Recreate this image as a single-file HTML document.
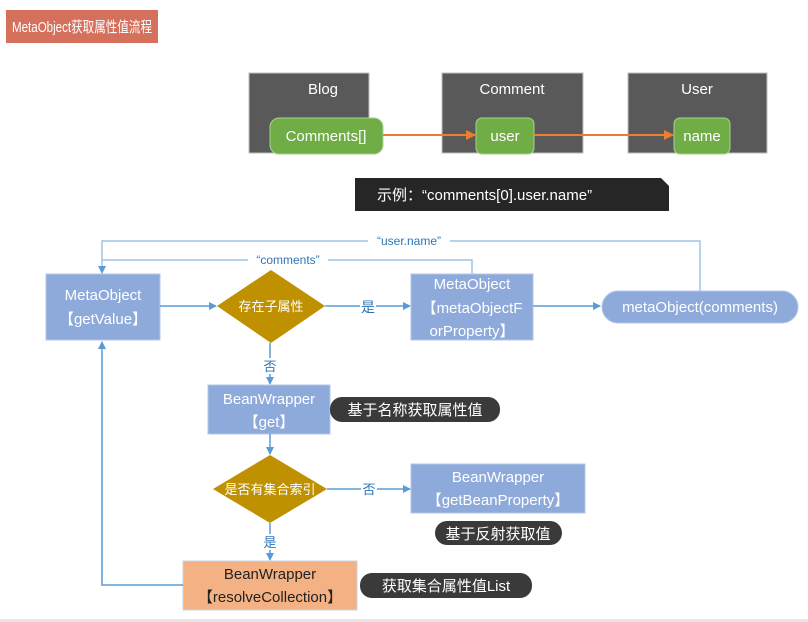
<!DOCTYPE html>
<html><head><meta charset="utf-8"><style>
body{margin:0;width:808px;height:622px;background:#fff;overflow:hidden}
svg{display:block}
text{font-family:"Liberation Sans","Noto Sans CJK SC",sans-serif}
</style></head><body>
<svg width="808" height="622" viewBox="0 0 808 622">
<defs>
<marker id="ab" markerWidth="8" markerHeight="8" refX="7" refY="4" orient="auto" markerUnits="userSpaceOnUse"><path d="M0,0 L8,4 L0,8 z" fill="#5b9bd5"/></marker>
<marker id="ao" markerWidth="10" markerHeight="10" refX="9" refY="5" orient="auto" markerUnits="userSpaceOnUse"><path d="M0,0 L10,5 L0,10 z" fill="#ed7d31"/></marker>
</defs>
<rect x="6" y="10" width="152" height="33" fill="#d4705c"/>
<text x="12" y="32" fill="#fff" font-size="15" textLength="140" lengthAdjust="spacingAndGlyphs">MetaObject获取属性值流程</text>

<rect x="249" y="73" width="120" height="80" fill="#595959" stroke="#bfbfbf"/>
<rect x="442" y="73" width="141" height="80" fill="#595959" stroke="#bfbfbf"/>
<rect x="628" y="73" width="139" height="80" fill="#595959" stroke="#bfbfbf"/>
<text x="323" y="94" fill="#fff" font-size="15" text-anchor="middle">Blog</text>
<text x="512" y="94" fill="#fff" font-size="15" text-anchor="middle">Comment</text>
<text x="697" y="94" fill="#fff" font-size="15" text-anchor="middle">User</text>
<rect x="270" y="118" width="113" height="36" rx="9" fill="#70ad47" stroke="#a9d18e"/>
<rect x="476" y="118" width="58" height="36" rx="6" fill="#70ad47" stroke="#a9d18e"/>
<rect x="674" y="118" width="56" height="36" rx="6" fill="#70ad47" stroke="#a9d18e"/>
<text x="326" y="141" fill="#fff" font-size="15" text-anchor="middle">Comments[]</text>
<text x="505" y="141" fill="#fff" font-size="15" text-anchor="middle">user</text>
<text x="702" y="141" fill="#fff" font-size="15" text-anchor="middle">name</text>
<line x1="383" y1="135" x2="475" y2="135" stroke="#ed7d31" stroke-width="2" marker-end="url(#ao)"/>
<line x1="534" y1="135" x2="673" y2="135" stroke="#ed7d31" stroke-width="2" marker-end="url(#ao)"/>

<path d="M355,178 H661 L669,186 V211 H355 z" fill="#262626"/>
<text x="377" y="200" fill="#fff" font-size="15">示例：“comments[0].user.name”</text>

<path d="M700,291 V241 H102 V273" fill="none" stroke="#9dc3e6" stroke-width="1.5" marker-end="url(#ab)"/>
<path d="M472,275 V260 H102" fill="none" stroke="#9dc3e6" stroke-width="1.5"/>
<rect x="368" y="232" width="82" height="16" fill="#fff"/>
<text x="409" y="245" fill="#2e75b6" font-size="12" text-anchor="middle">“user.name”</text>
<rect x="248" y="251" width="80" height="16" fill="#fff"/>
<text x="288" y="264" fill="#2e75b6" font-size="12" text-anchor="middle">“comments”</text>

<rect x="46" y="274" width="114" height="66" fill="#8eaadb" stroke="#b4c7e7"/>
<text x="103" y="300" fill="#fff" font-size="15" text-anchor="middle">MetaObject</text>
<text x="103" y="324" fill="#fff" font-size="15" text-anchor="middle">【getValue】</text>

<line x1="160" y1="306" x2="216" y2="306" stroke="#5b9bd5" stroke-width="1.5" marker-end="url(#ab)"/>
<polygon points="271,270 325,306 271,343 217,306" fill="#bf9000"/>
<text x="271" y="311" fill="#fff" font-size="13" text-anchor="middle">存在子属性</text>
<line x1="325" y1="306" x2="410" y2="306" stroke="#5b9bd5" stroke-width="1.5" marker-end="url(#ab)"/>
<rect x="360" y="298" width="16" height="16" fill="#fff"/>
<text x="368" y="312" fill="#2e75b6" font-size="14" text-anchor="middle">是</text>

<rect x="411" y="274" width="122" height="66" fill="#8eaadb" stroke="#b4c7e7"/>
<text x="472" y="289" fill="#fff" font-size="15" text-anchor="middle">MetaObject</text>
<text x="472" y="313" fill="#fff" font-size="15" text-anchor="middle">【metaObjectF</text>
<text x="472" y="336" fill="#fff" font-size="15" text-anchor="middle">orProperty】</text>
<line x1="533" y1="306" x2="600" y2="306" stroke="#5b9bd5" stroke-width="1.5" marker-end="url(#ab)"/>
<rect x="602" y="291" width="196" height="32" rx="16" fill="#8eaadb" stroke="#b4c7e7"/>
<text x="700" y="312" fill="#fff" font-size="15" text-anchor="middle">metaObject(comments)</text>

<line x1="270" y1="343" x2="270" y2="384" stroke="#5b9bd5" stroke-width="1.5" marker-end="url(#ab)"/>
<rect x="262" y="358" width="16" height="16" fill="#fff"/>
<text x="270" y="371" fill="#2e75b6" font-size="13" text-anchor="middle">否</text>

<rect x="208" y="385" width="122" height="49" fill="#8eaadb" stroke="#b4c7e7"/>
<text x="269" y="404" fill="#fff" font-size="15" text-anchor="middle">BeanWrapper</text>
<text x="269" y="427" fill="#fff" font-size="15" text-anchor="middle">【get】</text>
<rect x="330" y="397" width="170" height="25" rx="12" fill="#3a3a3a"/>
<text x="415" y="415" fill="#fff" font-size="15" text-anchor="middle">基于名称获取属性值</text>

<line x1="270" y1="434" x2="270" y2="454" stroke="#5b9bd5" stroke-width="1.5" marker-end="url(#ab)"/>
<polygon points="270,455 327,489 270,523 213,489" fill="#bf9000"/>
<text x="270" y="494" fill="#fff" font-size="13" text-anchor="middle">是否有集合索引</text>
<line x1="327" y1="489" x2="410" y2="489" stroke="#5b9bd5" stroke-width="1.5" marker-end="url(#ab)"/>
<rect x="361" y="481" width="16" height="16" fill="#fff"/>
<text x="369" y="494" fill="#2e75b6" font-size="13" text-anchor="middle">否</text>

<rect x="411" y="464" width="174" height="49" fill="#8eaadb" stroke="#b4c7e7"/>
<text x="498" y="482" fill="#fff" font-size="15" text-anchor="middle">BeanWrapper</text>
<text x="498" y="505" fill="#fff" font-size="15" text-anchor="middle">【getBeanProperty】</text>
<rect x="435" y="521" width="127" height="24" rx="12" fill="#3a3a3a"/>
<text x="498" y="539" fill="#fff" font-size="15" text-anchor="middle">基于反射获取值</text>

<line x1="270" y1="523" x2="270" y2="560" stroke="#5b9bd5" stroke-width="1.5" marker-end="url(#ab)"/>
<rect x="262" y="534" width="16" height="16" fill="#fff"/>
<text x="270" y="547" fill="#2e75b6" font-size="13" text-anchor="middle">是</text>

<rect x="183" y="561" width="174" height="49" fill="#f4b183" stroke="#c5d5ea"/>
<text x="270" y="579" fill="#222" font-size="15" text-anchor="middle">BeanWrapper</text>
<text x="270" y="602" fill="#222" font-size="15" text-anchor="middle">【resolveCollection】</text>
<rect x="360" y="573" width="172" height="25" rx="12" fill="#3a3a3a"/>
<text x="446" y="591" fill="#fff" font-size="15" text-anchor="middle">获取集合属性值List</text>

<path d="M183,585 H102 V342" fill="none" stroke="#5b9bd5" stroke-width="1.5" marker-end="url(#ab)"/>
<rect x="0" y="619" width="808" height="3" fill="#e6e6e6"/>
</svg>
</body></html>
